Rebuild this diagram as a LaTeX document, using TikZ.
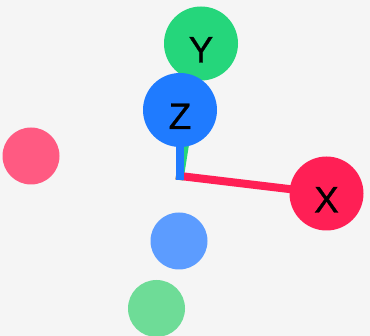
\documentclass[tikz,border=0pt]{standalone}
\usepackage{fontspec}
\setmainfont{Liberation Sans}
\newfontfamily\axisfont[FakeBold=0.8]{Liberation Sans}
\definecolor{bg}{HTML}{F5F5F5}
\definecolor{xred}{HTML}{FF1F55}
\definecolor{yg}{HTML}{25D67B}
\definecolor{zb}{HTML}{1F7BFF}
\definecolor{nx}{HTML}{FF5A82}
\definecolor{ny}{HTML}{6EDC97}
\definecolor{nz}{HTML}{5C9CFF}
\pgfdeclarelayer{bgl}
\pgfdeclarelayer{lines}
\pgfsetlayers{bgl,lines,main}
\begin{document}
\begin{tikzpicture}[x=1pt,y=-1pt,
  axisball/.style={circle,minimum size=74pt,inner sep=0pt,
    font=\axisfont\fontsize{37}{37}\selectfont,text height=38pt,text depth=0pt},
  negball/.style={circle,minimum size=57pt,inner sep=0pt},
  axisline/.style={line width=8pt,line cap=rect}]
\begin{pgfonlayer}{bgl}
\fill[bg] (0,0) rectangle (370,336);
\end{pgfonlayer}
\useasboundingbox (0,0) rectangle (370,336);
\coordinate (o) at (180,176);
\node[negball,fill=nx] (nx) at (31,156) {};
\node[negball,fill=nz] (nz) at (179,241) {};
\node[negball,fill=ny] (ny) at (156.5,308.5) {};
\node[axisball,fill=yg] (y) at (201,43.5) {Y};
\node[axisball,fill=xred] (x) at (326.5,193.5) {X};
\node[axisball,fill=zb] (z) at (180,110) {Z};
\begin{pgfonlayer}{lines}
\draw[axisline,yg] (o) -- (y.center);
\draw[axisline,xred] (o) -- (x.center);
\draw[axisline,zb] (o) -- (z.center);
\end{pgfonlayer}
\end{tikzpicture}
\end{document}
